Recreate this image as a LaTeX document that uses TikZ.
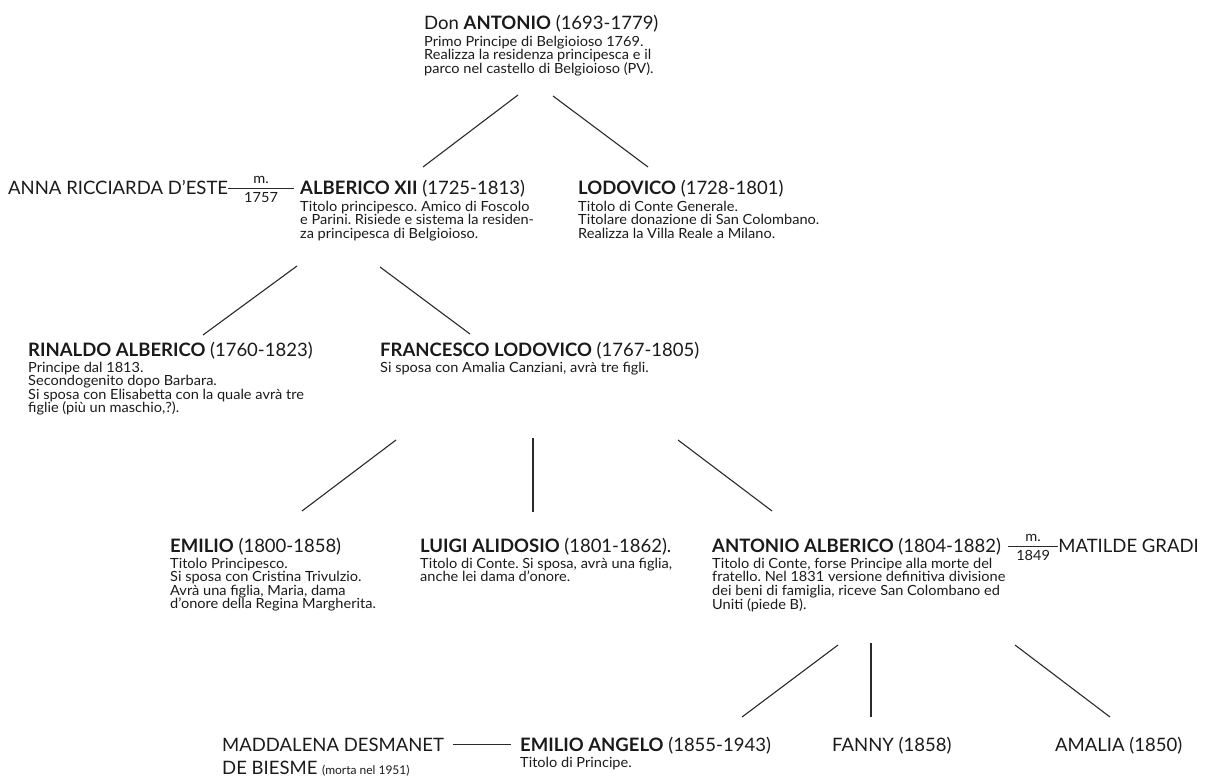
\documentclass[tikz,border=0pt]{standalone}
\usepackage{fontspec}
\setmainfont{Lato}
\newfontfamily\bodyfam{Lato}[FakeStretch=1.04]
\definecolor{ink}{HTML}{1A1A1A}
\definecolor{wire}{HTML}{2A2A2A}
\newcommand\hd{\fontsize{18.5}{18.5}\selectfont}
\newcommand\bd{\bodyfam\fontsize{14}{13.4}\selectfont}
\newcommand\sm{\bodyfam\fontsize{14}{14}\selectfont}
\newcommand\xs{\fontsize{12}{12}\selectfont}
\newcommand\bline[1]{\hbox{#1}}
\newcommand\blk[1]{\vtop{\bd #1}}
\frenchspacing
\begin{document}
\begin{tikzpicture}[x=1pt,y=-1pt,
  person/.style={anchor=base west, inner sep=0pt, text=ink, font=\hd},
  txt/.style={anchor=base west, inner sep=0pt, text=ink},
  conn/.style={draw=wire, line width=1.1pt},
  wed/.style={draw=wire, line width=0.9pt},
  lab/.style={inner sep=0pt, text=ink, font=\sm}]
\useasboundingbox (0,0) rectangle (1227,778);

% Row A
\node[person] (antonio) at (424,30) {Don \textbf{ANTONIO} (1693-1779)};
\node[txt] (antonio-txt) at (424,46.5) {\blk{%
  \bline{Primo Principe di Belgioioso 1769.}
  \bline{Realizza la residenza principesca e il}
  \bline{parco nel castello di Belgioioso (PV).}}};

% Row B
\node[person] (anna) at (8,195) {ANNA RICCIARDA D’ESTE};
\node[person] (alberico) at (300,195) {\textbf{ALBERICO XII} (1725-1813)};
\node[txt] (alberico-txt) at (300,211.5) {\blk{%
  \bline{Titolo principesco. Amico di Foscolo}
  \bline{e Parini. Risiede e sistema la residen-}
  \bline{za principesca di Belgioioso.}}};
\node[person] (lodovico) at (578,195) {\textbf{LODOVICO} (1728-1801)};
\node[txt] (lodovico-txt) at (578,211.5) {\blk{%
  \bline{Titolo di Conte Generale.}
  \bline{Titolare donazione di San Colombano.}
  \bline{Realizza la Villa Reale a Milano.}}};

% Row C
\node[person] (rinaldo) at (28,356) {\textbf{RINALDO ALBERICO} (1760-1823)};
\node[txt] (rinaldo-txt) at (28,372.5) {\blk{%
  \bline{Principe dal 1813.}
  \bline{Secondogenito dopo Barbara.}
  \bline{Si sposa con Elisabetta con la quale avrà tre}
  \bline{figlie (più un maschio,?).}}};
\node[person] (francesco) at (380,356) {\textbf{FRANCESCO LODOVICO} (1767-1805)};
\node[txt] (francesco-txt) at (380,372.5) {\blk{%
  \bline{Si sposa con Amalia Canziani, avrà tre figli.}}};

% Row D
\node[person] (emilio) at (170,552) {\textbf{EMILIO} (1800-1858)};
\node[txt] (emilio-txt) at (170,568.5) {\blk{%
  \bline{Titolo Principesco.}
  \bline{Si sposa con Cristina Trivulzio.}
  \bline{Avrà una figlia, Maria, dama}
  \bline{d’onore della Regina Margherita.}}};
\node[person] (luigi) at (420,552) {\textbf{LUIGI ALIDOSIO} (1801-1862).};
\node[txt] (luigi-txt) at (420,568.5) {\blk{%
  \bline{Titolo di Conte. Si sposa, avrà una figlia,}
  \bline{anche lei dama d’onore.}}};
\node[person] (antalb) at (712,552) {\textbf{ANTONIO ALBERICO} (1804-1882)};
\node[txt] (antalb-txt) at (712,568.5) {\blk{%
  \bline{Titolo di Conte, forse Principe alla morte del}
  \bline{fratello. Nel 1831 versione definitiva divisione}
  \bline{dei beni di famiglia, riceve San Colombano ed}
  \bline{Uniti (piede B).}}};
\coordinate (m2s) at ([xshift=7pt]antalb.east);
\coordinate (m2e) at ([xshift=50pt]m2s);
\node[person, anchor=west] (matilde) at (m2e) {MATILDE GRADI};

% Row E
\node[person] (maddalena) at (222,751) {MADDALENA DESMANET};
\node[person] (maddalena-2) at (222,774) {DE BIESME {\xs (morta nel 1951)}};
\node[person] (emang) at (520,751) {\textbf{EMILIO ANGELO} (1855-1943)};
\node[txt] (emang-txt) at (520,767) {\blk{\bline{Titolo di Principe.}}};
\node[person] (fanny) at (832,751) {FANNY (1858)};
\node[person] (amalia) at (1055,751) {AMALIA (1850)};

% connector end points
\coordinate (antonio-l) at (518,95);  \coordinate (alberico-t) at (423,167);
\coordinate (antonio-r) at (553,96);  \coordinate (lodovico-t) at (648,167);
\coordinate (alberico-l) at (297,266); \coordinate (rinaldo-t) at (203,335);
\coordinate (alberico-r) at (380,267); \coordinate (francesco-t) at (470,334);
\coordinate (francesco-l) at (396,440); \coordinate (emilio-t) at (302,511);
\coordinate (francesco-m) at (533,438); \coordinate (luigi-t) at (533,512);
\coordinate (francesco-r) at (678,440); \coordinate (antalb-t) at (772,511);
\coordinate (antalb-l) at (838,645); \coordinate (emang-t) at (742,717);
\coordinate (antalb-m) at (871,643); \coordinate (fanny-t) at (871,717);
\coordinate (antalb-r) at (1015,645); \coordinate (amalia-t) at (1110,717);

\draw[conn] (antonio-l) -- (alberico-t);
\draw[conn] (antonio-r) -- (lodovico-t);
\draw[conn] (alberico-l) -- (rinaldo-t);
\draw[conn] (alberico-r) -- (francesco-t);
\draw[conn] (francesco-l) -- (emilio-t);
\draw[conn] (francesco-m) -- (luigi-t);
\draw[conn] (francesco-r) -- (antalb-t);
\draw[conn] (antalb-l) -- (emang-t);
\draw[conn] (antalb-m) -- (fanny-t);
\draw[conn] (antalb-r) -- (amalia-t);

% marriages
\draw[wed] (anna.east) -- ([xshift=-6pt]alberico.west |- anna.east)
  node[lab, midway, above=4pt] {m.} node[lab, midway, below=4pt] {1757};
\draw[wed] (m2s) -- (matilde.west)
  node[lab, midway, above=4pt] {m.} node[lab, midway, below=4pt] {1849};
\draw[wed] ([xshift=9pt]maddalena.east) -- ([xshift=-9pt]emang.west |- maddalena.east);
\end{tikzpicture}
\end{document}
